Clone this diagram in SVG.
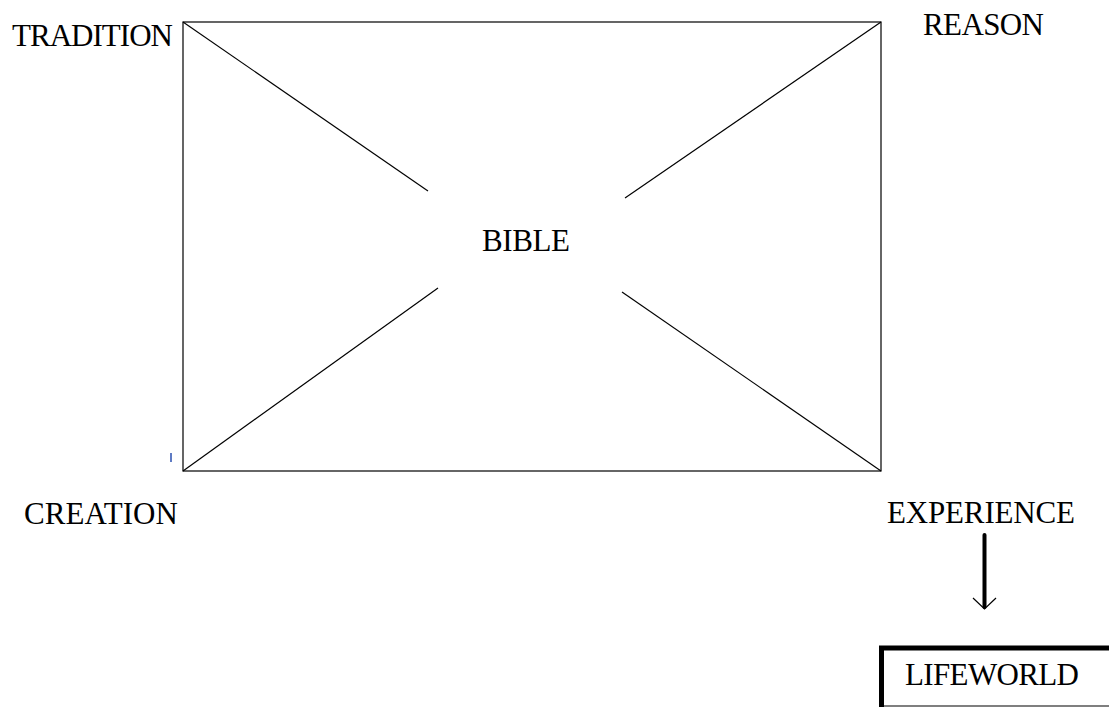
<svg xmlns="http://www.w3.org/2000/svg" width="1109" height="707" viewBox="0 0 1109 707">
<style>
.lbl{font-family:"Liberation Serif","Times New Roman",serif;font-size:31px;fill:#000}
.thin{stroke:#000;stroke-width:1.2;fill:none}
</style>
<rect width="1109" height="707" fill="#fff"/>
<g id="frame">
<rect x="183" y="22" width="698" height="449" class="thin"/>
</g>
<g id="connectors">
<line x1="183" y1="22" x2="428" y2="191" class="thin"/>
<line x1="881" y1="22" x2="625" y2="198" class="thin"/>
<line x1="183" y1="471" x2="438" y2="288" class="thin"/>
<line x1="881" y1="471" x2="622" y2="292" class="thin"/>
<line x1="984.5" y1="535" x2="984.5" y2="607" stroke="#000" stroke-width="4" stroke-linecap="round"/>
<polyline points="973,598 984.5,609 996,598" class="thin"/>
<line x1="171" y1="453" x2="171" y2="462" stroke="#2a4fb0" stroke-width="1.5"/>
</g>
<g id="tradition"><text class="lbl" x="12" y="46" textLength="161">TRADITION</text></g>
<g id="reason"><text class="lbl" x="923" y="35" textLength="121">REASON</text></g>
<g id="bible"><text class="lbl" x="482" y="251" textLength="88">BIBLE</text></g>
<g id="creation"><text class="lbl" x="24" y="524" textLength="154">CREATION</text></g>
<g id="experience"><text class="lbl" x="887" y="523" textLength="188">EXPERIENCE</text></g>
<g id="lifeworld">
<line x1="881.5" y1="646" x2="881.5" y2="707" stroke="#000" stroke-width="5"/>
<line x1="879" y1="648" x2="1109" y2="648" stroke="#000" stroke-width="5"/>
<line x1="881" y1="706" x2="1109" y2="706" stroke="#000" stroke-width="1.2"/>
<text class="lbl" x="905" y="685" textLength="174">LIFEWORLD</text>
</g>
</svg>
